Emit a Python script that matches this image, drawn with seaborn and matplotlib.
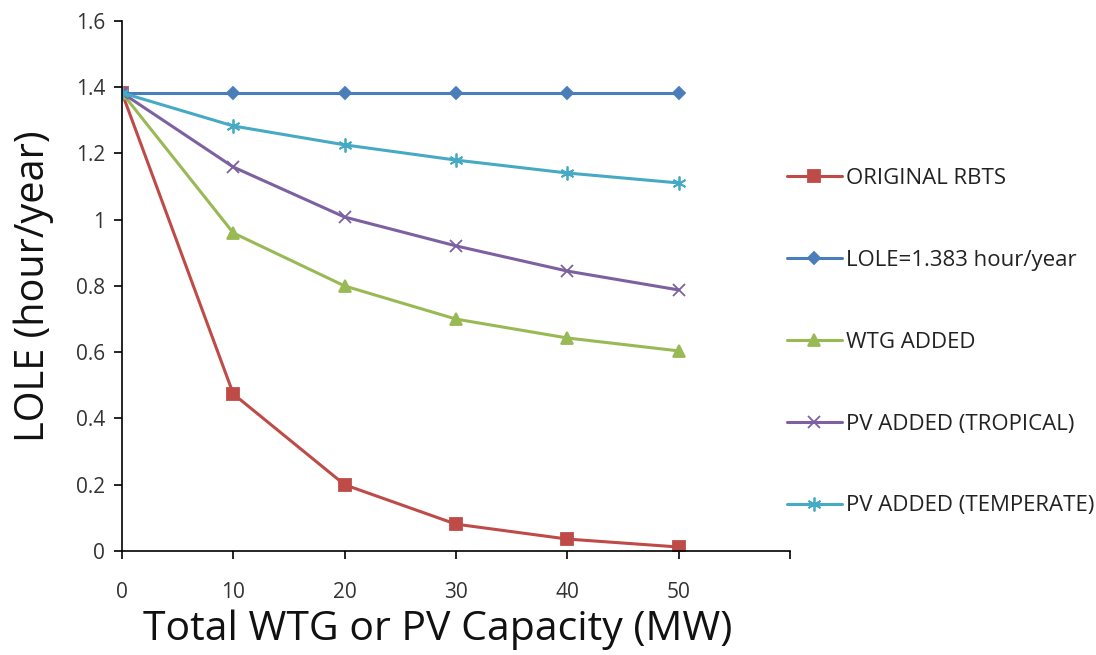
import matplotlib
matplotlib.use("Agg")
import matplotlib.pyplot as plt
import seaborn as sns
import pandas as pd

# Capacity of added WTG / PV (MW)
capacity = [0, 10, 20, 30, 40, 50]

# LOLE (hour/year) for each case
original_rbts = [1.383, 0.474, 0.200, 0.081, 0.036, 0.012]
lole_target = [1.383, 1.383, 1.383, 1.383, 1.383, 1.383]
wtg_added = [1.383, 0.960, 0.800, 0.700, 0.643, 0.604]
pv_tropical = [1.383, 1.159, 1.008, 0.921, 0.845, 0.788]
pv_temperate = [1.383, 1.283, 1.226, 1.180, 1.141, 1.111]

series_names = [
    "ORIGINAL RBTS",
    "LOLE=1.383 hour/year",
    "WTG ADDED",
    "PV ADDED (TROPICAL)",
    "PV ADDED (TEMPERATE)",
]
series_values = [original_rbts, lole_target, wtg_added, pv_tropical, pv_temperate]

x_ticks = [0, 10, 20, 30, 40, 50, 60]
x_tick_labels = ["0", "10", "20", "30", "40", "50", ""]
y_ticks = [0, 0.2, 0.4, 0.6, 0.8, 1.0, 1.2, 1.4, 1.6]
y_tick_labels = ["0", "0.2", "0.4", "0.6", "0.8", "1", "1.2", "1.4", "1.6"]

colors = ["#BE4B48", "#4A7EBB", "#98B954", "#7D60A0", "#46AAC5"]
markers = ["s", "D", "^", "x", (6, 2, 0)]
marker_sizes = [8, 6, 8, 9, 10]

rows = []
for name, vals in zip(series_names, series_values):
    for c, v in zip(capacity, vals):
        rows.append({"Capacity": c, "LOLE": v, "Series": name})
df = pd.DataFrame(rows)

sns.set_theme(style="white")
plt.rcParams["font.family"] = ["Open Sans", "DejaVu Sans"]

fig = plt.figure(figsize=(10.96, 6.55), dpi=100)
ax = fig.add_axes([0.1113, 0.1588, 0.6095, 0.8092])

for name, col, mk, ms in zip(series_names, colors, markers, marker_sizes):
    sub = df[df["Series"] == name]
    sns.lineplot(
        data=sub, x="Capacity", y="LOLE", ax=ax, color=col, marker=mk,
        markersize=ms, linewidth=2.2, label=name,
        markeredgecolor=col, markeredgewidth=1.3, markerfacecolor=col,
    )

ax.set_xlim(0, 60)
ax.set_ylim(0, 1.6)
ax.set_xticks(x_ticks)
ax.set_xticklabels(x_tick_labels, fontsize=15, color="#333333")
ax.set_yticks(y_ticks)
ax.set_yticklabels(y_tick_labels, fontsize=15, color="#333333")
ax.tick_params(axis="x", direction="out", length=6, width=1.2, color="black", pad=16, bottom=True)
ax.tick_params(axis="y", direction="out", length=6, width=1.2, color="black", pad=6, left=True)

for side in ["top", "right"]:
    ax.spines[side].set_visible(False)
for side in ["left", "bottom"]:
    ax.spines[side].set_color("black")
    ax.spines[side].set_linewidth(1.2)

ax.set_xlabel("Total WTG or PV Capacity (MW)", fontsize=29.5, color="#111111", labelpad=5)
ax.xaxis.label.set_x(0.472)
ax.set_ylabel("LOLE (hour/year)", fontsize=28.5, color="#111111", labelpad=16)

leg = ax.legend(
    loc="center left", bbox_to_anchor=(0.965, 0.394), frameon=False,
    fontsize=16, labelspacing=2.74, handlelength=2.5, handletextpad=0.15,
)
for txt in leg.get_texts():
    txt.set_color("#222222")

fig.savefig("out.png", dpi=100, facecolor="white")
